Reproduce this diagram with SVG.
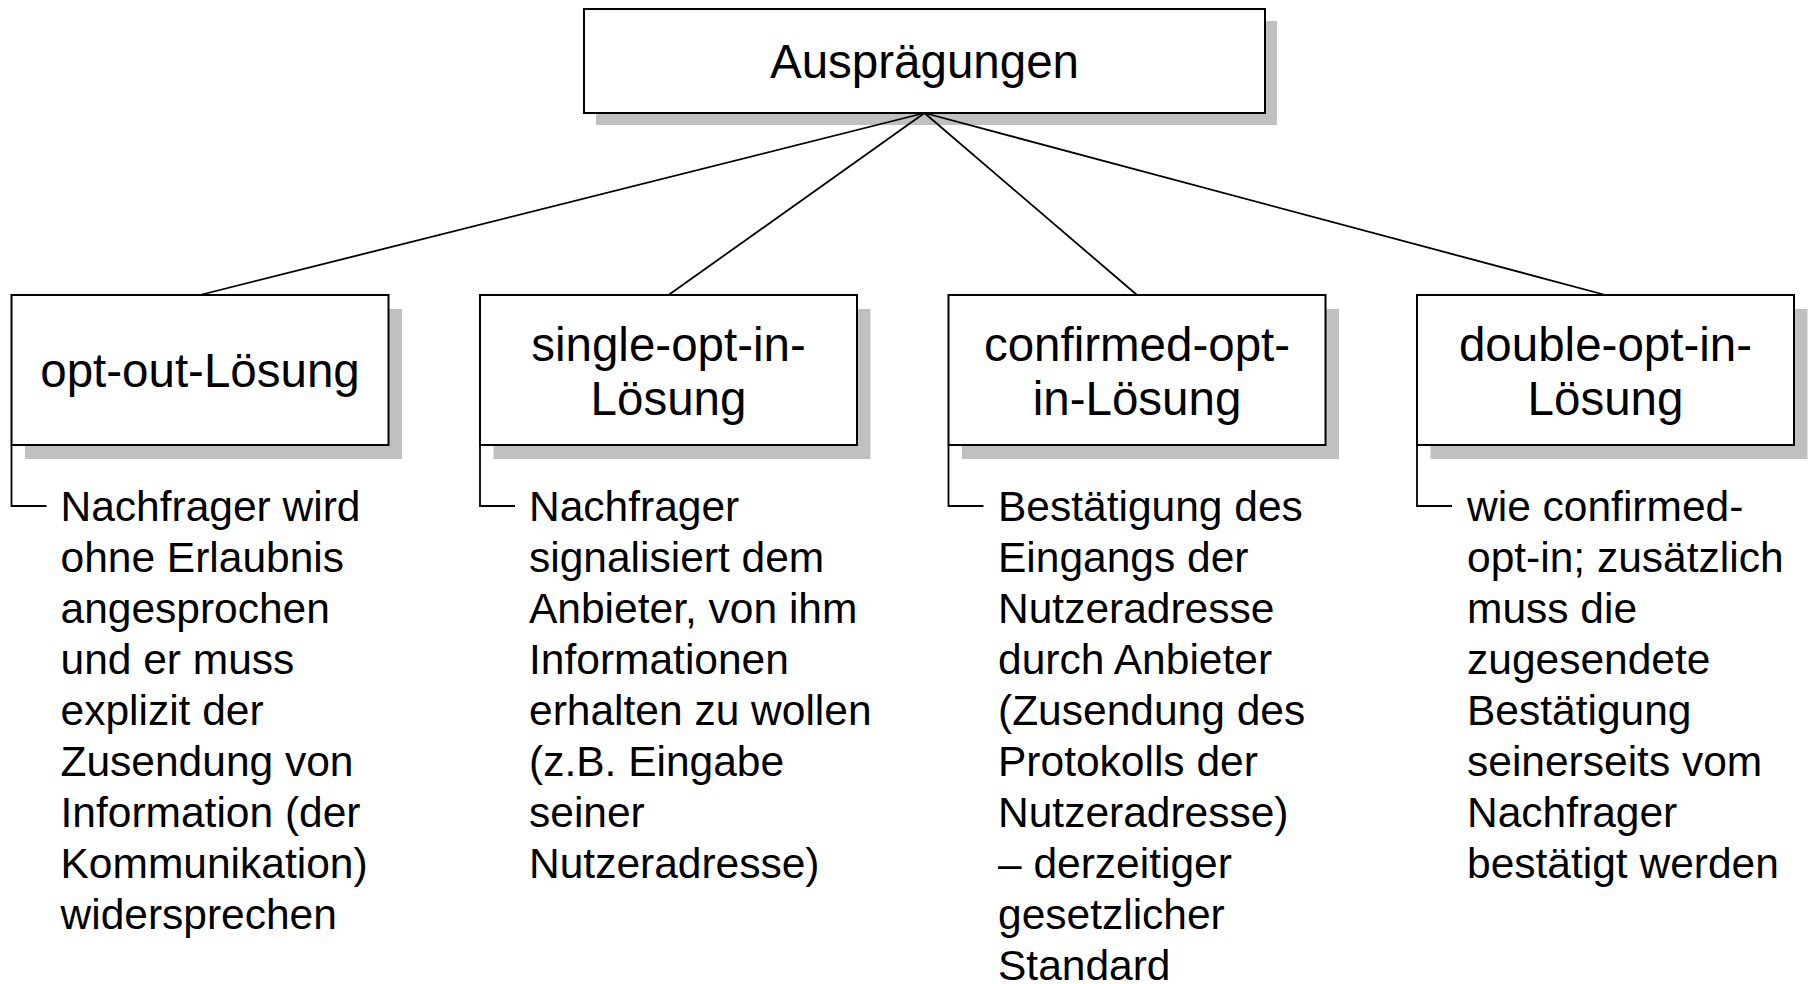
<svg xmlns="http://www.w3.org/2000/svg" width="1814" height="984" viewBox="0 0 1814 984">
  <style>
    .shadow { fill: #c0c0c0; stroke: none; }
    .box { fill: #ffffff; stroke: #000000; stroke-width: 2; }
    .edge { fill: none; stroke: #000000; stroke-width: 1.8; }
    .title { font-family: "Liberation Sans", Arial, sans-serif; font-size: 47.5px; fill: #000000; text-anchor: middle; }
    .desc { font-family: "Liberation Sans", Arial, sans-serif; font-size: 42.5px; fill: #000000; }
  </style>
  <rect width="1814" height="984" fill="#ffffff"/>

  <g id="root">
    <rect class="shadow" x="596" y="21" width="681" height="104"/>
    <rect class="box" x="584" y="9" width="681" height="104"/>
    <text class="title" x="924.5" y="78">Ausprägungen</text>
  </g>

  <g id="opt-out">
    <rect class="shadow" x="25" y="309" width="377" height="150"/>
    <rect class="box" x="11.5" y="295" width="377" height="150"/>
    <text class="title" x="200" y="387">opt-out-Lösung</text>
    <text class="desc" x="60.5" y="521">
      <tspan x="60.5" dy="0">Nachfrager wird</tspan>
      <tspan x="60.5" dy="51">ohne Erlaubnis</tspan>
      <tspan x="60.5" dy="51">angesprochen</tspan>
      <tspan x="60.5" dy="51">und er muss</tspan>
      <tspan x="60.5" dy="51">explizit der</tspan>
      <tspan x="60.5" dy="51">Zusendung von</tspan>
      <tspan x="60.5" dy="51">Information (der</tspan>
      <tspan x="60.5" dy="51">Kommunikation)</tspan>
      <tspan x="60.5" dy="51">widersprechen</tspan>
    </text>
  </g>

  <g id="single-opt-in">
    <rect class="shadow" x="493.5" y="309" width="377" height="150"/>
    <rect class="box" x="480" y="295" width="377" height="150"/>
    <text class="title" x="668.5" y="361">single-opt-in-</text>
    <text class="title" x="668.5" y="415">Lösung</text>
    <text class="desc" x="529" y="521">
      <tspan x="529" dy="0">Nachfrager</tspan>
      <tspan x="529" dy="51">signalisiert dem</tspan>
      <tspan x="529" dy="51">Anbieter, von ihm</tspan>
      <tspan x="529" dy="51">Informationen</tspan>
      <tspan x="529" dy="51">erhalten zu wollen</tspan>
      <tspan x="529" dy="51">(z.B. Eingabe</tspan>
      <tspan x="529" dy="51">seiner</tspan>
      <tspan x="529" dy="51">Nutzeradresse)</tspan>
    </text>
  </g>

  <g id="confirmed-opt-in">
    <rect class="shadow" x="962" y="309" width="377" height="150"/>
    <rect class="box" x="948.5" y="295" width="377" height="150"/>
    <text class="title" x="1137" y="361">confirmed-opt-</text>
    <text class="title" x="1137" y="415">in-Lösung</text>
    <text class="desc" x="998" y="521">
      <tspan x="998" dy="0">Bestätigung des</tspan>
      <tspan x="998" dy="51">Eingangs der</tspan>
      <tspan x="998" dy="51">Nutzeradresse</tspan>
      <tspan x="998" dy="51">durch Anbieter</tspan>
      <tspan x="998" dy="51">(Zusendung des</tspan>
      <tspan x="998" dy="51">Protokolls der</tspan>
      <tspan x="998" dy="51">Nutzeradresse)</tspan>
      <tspan x="998" dy="51">– derzeitiger</tspan>
      <tspan x="998" dy="51">gesetzlicher</tspan>
      <tspan x="998" dy="51">Standard</tspan>
    </text>
  </g>

  <g id="double-opt-in">
    <rect class="shadow" x="1430.5" y="309" width="377" height="150"/>
    <rect class="box" x="1417" y="295" width="377" height="150"/>
    <text class="title" x="1605.5" y="361">double-opt-in-</text>
    <text class="title" x="1605.5" y="415">Lösung</text>
    <text class="desc" x="1467" y="521">
      <tspan x="1467" dy="0">wie confirmed-</tspan>
      <tspan x="1467" dy="51">opt-in; zusätzlich</tspan>
      <tspan x="1467" dy="51">muss die</tspan>
      <tspan x="1467" dy="51">zugesendete</tspan>
      <tspan x="1467" dy="51">Bestätigung</tspan>
      <tspan x="1467" dy="51">seinerseits vom</tspan>
      <tspan x="1467" dy="51">Nachfrager</tspan>
      <tspan x="1467" dy="51">bestätigt werden</tspan>
    </text>
  </g>

  <!-- tree connectors from root to the four variants, drawn over the shadows -->
  <g id="connectors">
    <line class="edge" x1="924.5" y1="113" x2="200" y2="295"/>
    <line class="edge" x1="924.5" y1="113" x2="668.5" y2="295"/>
    <line class="edge" x1="924.5" y1="113" x2="1137" y2="295"/>
    <line class="edge" x1="924.5" y1="113" x2="1605.5" y2="295"/>
    <!-- brackets leading into the descriptions -->
    <polyline class="edge" points="11.5,445 11.5,506 46.5,506"/>
    <polyline class="edge" points="480,445 480,506 515,506"/>
    <polyline class="edge" points="948.5,445 948.5,506 983.5,506"/>
    <polyline class="edge" points="1417,445 1417,506 1452,506"/>
  </g>
</svg>
